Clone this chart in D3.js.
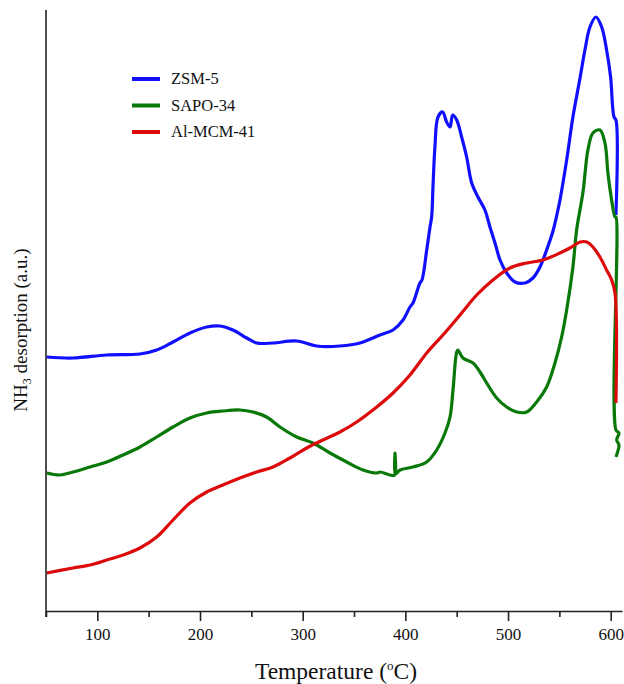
<!DOCTYPE html>
<html>
<head>
<meta charset="utf-8">
<script src="https://cdn.jsdelivr.net/npm/d3@7"></script>
<style>
  body { margin: 0; background: #fff; }
  svg text { font-family: "Liberation Serif", "Times New Roman", serif; fill: #111; }
</style>
</head>
<body>
<svg id="tpd" width="624" height="684"></svg>
<script>
// ---- data (temperature in C, NH3 signal in a.u.) ----
var seriesNames = ["ZSM-5", "SAPO-34", "Al-MCM-41"];
var seriesColors = ["#1010ff", "#087808", "#dc0a0a"];

var zsm5T = [50.7, 76.3, 109, 141.5, 157.8, 173.7, 190.2, 206.5, 219.5, 232, 245.5, 255.2, 271, 294.2, 313.6, 336.3, 355.8, 375.3, 388, 397.7, 404.5, 407.4, 414.2, 416.2, 420.8, 424, 425.6, 426.9, 428.8, 431.8, 436.3, 440.2, 443.5, 446.1, 450, 454.8, 459.7, 464.6, 470.7, 477.5, 482.4, 487.3, 492.2, 498.7, 506.8, 516.5, 524.3, 531.1, 537.6, 543.8, 548.6, 550.6, 557.1, 563.2, 570.3, 574.9, 579.8, 585.6, 591.2, 596, 599.9, 603.2, 605.1, 605.1];
var zsm5V = [254, 253, 256, 257, 261, 269, 278, 284, 285, 281, 273, 268, 268, 270, 265, 265, 268, 276, 281, 291, 304, 308, 328, 331, 361, 384, 394, 424, 464, 494, 499, 489, 484, 496, 491, 474, 454, 428, 414, 401, 384, 368, 351, 338, 329, 328, 333, 344, 361, 380, 401, 411, 451, 494, 534, 561, 584, 594, 584, 561, 534, 494, 491, 396];

var sapoT = [50.7, 63.6, 76.3, 92.9, 109.1, 125, 141.5, 157.8, 173.7, 190.2, 206.5, 222.4, 238.9, 251.6, 264.9, 277.9, 294.2, 310, 326.6, 342.9, 358.7, 372.1, 375.3, 385, 389.5, 389.9, 390.3, 394.8, 407.4, 420.8, 430.5, 438.6, 443.5, 446.4, 450, 451.2, 456.1, 465.9, 472.7, 479.2, 488.9, 498.7, 508.4, 518.2, 527.9, 537.6, 545.7, 552.2, 557.1, 563.2, 566.8, 573, 577.8, 582.7, 589.5, 594.4, 597.3, 600.9, 604.2, 605.1, 605.1, 608, 605.8, 608, 605.1];
var sapoV = [138, 136, 139, 144, 149, 156, 164, 174, 184, 193, 198, 200, 201, 199, 194, 184, 174, 168, 158, 149, 141, 138, 139, 136, 136, 158, 137, 141, 144, 149, 161, 178, 194, 221, 259, 261, 253, 248, 239, 228, 213, 204, 199, 199, 209, 224, 248, 274, 301, 344, 381, 419, 461, 478, 481, 468, 438, 411, 394, 394, 181, 178, 171, 166, 154];

var mcmT = [50.7, 76.3, 92.9, 109.1, 125, 141.5, 157.8, 173.7, 190.2, 206.5, 222.4, 238.9, 255.2, 271.1, 287.6, 303.9, 319.8, 336.3, 352.6, 372.1, 388, 404.5, 420.8, 436.6, 453.2, 469.5, 485.3, 501.9, 518.2, 534, 550.6, 560.3, 570.3, 576.6, 582.7, 589.5, 596, 600.9, 604.2, 605.1];
var mcmV = [38, 43, 46, 51, 56, 63, 74, 91, 108, 119, 126, 133, 139, 144, 153, 163, 171, 179, 189, 204, 218, 236, 258, 276, 296, 316, 331, 343, 348, 351, 358, 363, 369, 369, 364, 354, 341, 331, 318, 208];

var majorTicks = [100, 200, 300, 400, 500, 600];
var minorTicks = [50, 150, 250, 350, 450, 550];

// ---- layout ----
var svg = d3.select("#tpd");
var x = d3.scaleLinear().domain([50, 611]).range([46, 622]);
var y = d3.scaleLinear().domain([0, 601]).range([611, 10]);

function zipSeries(ts, vs) {
  return ts.map(function(t, i) { return [t, vs[i]]; });
}
var allSeries = [zipSeries(zsm5T, zsm5V), zipSeries(sapoT, sapoV), zipSeries(mcmT, mcmV)];

var line = d3.line()
  .x(function(d) { return x(d[0]); })
  .y(function(d) { return y(d[1]); })
  .curve(d3.curveCatmullRom.alpha(0.5));

allSeries.forEach(function(s, i) {
  svg.append("path")
    .datum(s)
    .attr("fill", "none")
    .attr("stroke", seriesColors[i])
    .attr("stroke-width", 3.2)
    .attr("stroke-linejoin", "round")
    .attr("d", line);
});

// left axis: plain line, no ticks
svg.append("line")
  .attr("x1", x(50)).attr("x2", x(50))
  .attr("y1", 10).attr("y2", 617)
  .attr("stroke", "#222").attr("stroke-width", 1.6);

// bottom axis, major + minor ticks
var gx = svg.append("g").attr("transform", "translate(0," + y(0) + ")");
gx.call(d3.axisBottom(x).tickValues(majorTicks).tickSize(10).tickPadding(7).tickSizeOuter(0));
gx.call(function(g) {
  g.select(".domain").attr("stroke", "#222").attr("stroke-width", 1.6);
  g.selectAll(".tick line").attr("stroke", "#222").attr("stroke-width", 1.6);
  g.selectAll(".tick text").attr("fill", "#111")
    .style("font-family", "'Liberation Serif', 'Times New Roman', serif")
    .style("font-size", "17px");
});
var gm = svg.append("g").attr("transform", "translate(0," + y(0) + ")");
gm.call(d3.axisBottom(x).tickValues(minorTicks).tickSize(6).tickFormat("").tickSizeOuter(0));
gm.select(".domain").remove();
gm.selectAll(".tick line").attr("stroke", "#222").attr("stroke-width", 1.6);

// axis titles
var xt = svg.append("text")
  .attr("x", 336).attr("y", 679)
  .attr("text-anchor", "middle")
  .style("font-size", "23.5px");
xt.append("tspan").text("Temperature (");
xt.append("tspan").attr("dy", -9).style("font-size", "13px").text("o");
xt.append("tspan").attr("dy", 9).text("C)");

var yt = svg.append("text")
  .attr("transform", "translate(27,330) rotate(-90)")
  .attr("text-anchor", "middle")
  .style("font-size", "19px");
yt.append("tspan").text("NH");
yt.append("tspan").attr("dy", 4).style("font-size", "12px").text("3");
yt.append("tspan").attr("dy", -4).text(" desorption (a.u.)");

// legend
var legend = svg.append("g");
seriesNames.forEach(function(name, i) {
  var ly = 79 + i * 26.5;
  legend.append("line")
    .attr("x1", 132).attr("x2", 160)
    .attr("y1", ly).attr("y2", ly)
    .attr("stroke", seriesColors[i]).attr("stroke-width", 4);
  legend.append("text")
    .attr("x", 171).attr("y", ly + 5)
    .style("font-size", "16.5px")
    .text(name);
});
</script>
</body>
</html>
